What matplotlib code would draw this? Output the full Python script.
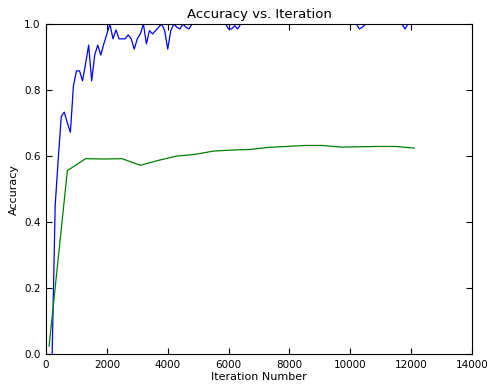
import matplotlib
matplotlib.use("Agg")
import matplotlib.pyplot as plt
import numpy as np

# training accuracy, sampled every 100 iterations starting at 200
train_iters = np.arange(200, 12200, 100)
train_acc = [
    0.0, 0.45, 0.59, 0.72, 0.733, 0.70, 0.672, 0.813, 0.858, 0.858,   # 200-1100
    0.828, 0.88, 0.936, 0.828, 0.906, 0.936, 0.906, 0.94, 0.97, 1.0,  # 1200-2100
    0.955, 0.982, 0.955, 0.955, 0.955, 0.967, 0.955, 0.924, 0.955, 0.97,  # 2200-3100
    1.0, 0.94, 0.98, 0.97, 0.98, 0.99, 1.0, 0.98, 0.924, 0.98,  # 3200-4100
    1.0, 0.99, 0.985, 1.0, 0.99, 0.985, 1.0, 1.0, 1.0, 1.0,  # 4200-5100
    1.0, 1.0, 1.0, 1.0, 1.0, 1.0, 1.0, 1.0, 0.985, 0.985,  # 5200-6100
    0.995, 0.985, 1.0, 1.0, 1.0, 1.0, 1.0, 1.0, 1.0, 1.0,  # 6200-7100
    1.0, 1.0, 1.0, 1.0, 1.0, 1.0, 1.0, 1.0, 1.0, 1.0,  # 7200-8100
    1.0, 1.0, 1.0, 1.0, 1.0, 1.0, 1.0, 1.0, 1.0, 1.0,  # 8200-9100
    1.0, 1.0, 1.0, 1.0, 1.0, 1.0, 1.0, 1.0, 1.0, 1.0,  # 9200-10100
    1.0, 0.985, 0.99, 1.0, 1.0, 1.0, 1.0, 1.0, 1.0, 1.0,  # 10200-11100
    1.0, 1.0, 1.0, 1.0, 1.0, 1.0, 0.985, 1.0, 1.0, 1.0,  # 11200-12100
]

# test accuracy, every 600 iterations starting at 100
test_iters = np.arange(100, 12200, 600)
test_acc = [0.024, 0.556, 0.592, 0.591, 0.592, 0.572, 0.587, 0.600, 0.605,
            0.615, 0.618, 0.620, 0.626, 0.629, 0.632, 0.632, 0.627, 0.628,
            0.629, 0.629, 0.624]

fig = plt.figure(figsize=(4.9, 3.87), dpi=100)
ax = fig.add_axes([0.094, 0.085, 0.869, 0.853])

ax.plot(train_iters, train_acc, color="b", lw=0.9)
ax.plot(test_iters, test_acc, color="g", lw=0.9)

ax.set_xlim(0, 14000)
ax.set_ylim(0, 1.0)
ax.set_xticks(np.arange(0, 14001, 2000))
ax.set_yticks(np.arange(0, 1.01, 0.2))
ax.tick_params(direction="in", top=True, right=True, labelsize=7.5, length=4, pad=4)

ax.set_xlabel("Iteration Number", fontsize=8, labelpad=2)
ax.set_ylabel("Accuracy", fontsize=8, labelpad=4)
ax.set_title("Accuracy vs. Iteration", fontsize=9.5, pad=4)

fig.savefig("out.png", dpi=100)
